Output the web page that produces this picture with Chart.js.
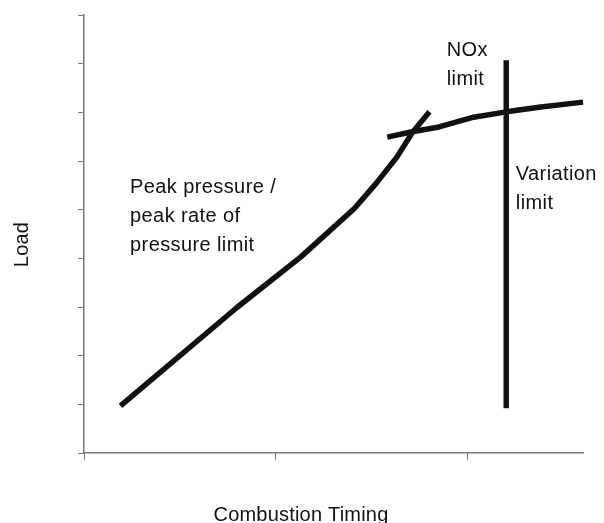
<!DOCTYPE html>
<html>
<head>
<meta charset="utf-8">
<script src="https://cdn.jsdelivr.net/npm/chart.js@4/dist/chart.umd.min.js"></script>
<style>
html,body{margin:0;padding:0;background:#fff;}
#wrap{width:604px;height:523px;position:relative;}
</style>
</head>
<body>
<div id="wrap"><canvas id="c" width="604" height="523"></canvas></div>
<script>
// Data (x: combustion timing, y: load)
const peakX = [0.19, 0.80, 1.13, 1.41, 1.52, 1.63, 1.71, 1.80];
const peakY = [0.97, 3.00, 4.03, 5.03, 5.53, 6.08, 6.58, 7.01];
const noxX = [1.58, 1.71, 1.85, 2.03, 2.20, 2.38, 2.60];
const noxY = [6.49, 6.60, 6.70, 6.90, 7.01, 7.11, 7.21];
const varX = [2.20, 2.20];
const varY = [0.92, 8.07];
const xTitle = 'Combustion Timing';
const yTitle = 'Load';
// text annotations, anchored in data units (left edge, first baseline)
const labels = [
  {lines: ['Peak pressure /', 'peak rate of', 'pressure limit'], x: 0.24, y: 5.34},
  {lines: ['NOx', 'limit'], x: 1.89, y: 8.16},
  {lines: ['Variation', 'limit'], x: 2.25, y: 5.61}
];

const pts = (xs, ys) => xs.map((x, i) => ({x: x, y: ys[i]}));
const FONT = "'Liberation Sans', Arial, sans-serif";
const lineStyle = {borderColor: '#111', borderWidth: 5.5, pointRadius: 0, showLine: true,
  fill: false, tension: 0, borderCapStyle: 'butt', borderJoinStyle: 'round', clip: false};

const textPlugin = {
  id: 'textLabels',
  afterDatasetsDraw(chart) {
    const ctx = chart.ctx, xs = chart.scales.x, ys = chart.scales.y;
    ctx.save();
    ctx.font = '20px ' + FONT;
    ctx.fillStyle = '#111';
    ctx.textAlign = 'left';
    ctx.textBaseline = 'alphabetic';
    ctx.letterSpacing = '0.4px';
    labels.forEach(l => {
      const px = xs.getPixelForValue(l.x);
      const py = ys.getPixelForValue(l.y);
      l.lines.forEach((t, i) => ctx.fillText(t, px, py + i * 29));
    });
    ctx.letterSpacing = '0.2px';
    // axis titles
    ctx.textAlign = 'center';
    ctx.fillText(xTitle, 301, 521);
    ctx.translate(28, 244.5);
    ctx.rotate(-Math.PI / 2);
    ctx.fillText(yTitle, 0, 0);
    ctx.restore();
  }
};

new Chart(document.getElementById('c'), {
  type: 'scatter',
  data: {
    datasets: [
      Object.assign({label: 'Peak pressure', data: pts(peakX, peakY)}, lineStyle),
      Object.assign({label: 'NOx', data: pts(noxX, noxY)}, lineStyle),
      Object.assign({label: 'Variation', data: pts(varX, varY)}, lineStyle)
    ]
  },
  options: {
    responsive: false,
    animation: false,
    layout: {padding: {top: 15, right: 21, left: 78, bottom: 63}},
    plugins: {legend: {display: false}, tooltip: {enabled: false}},
    scales: {
      x: {
        type: 'linear', min: 0, max: 2.6,
        ticks: {display: false, stepSize: 1, includeBounds: false},
        grid: {drawOnChartArea: false, drawTicks: true, tickLength: 7, color: '#777', lineWidth: 1},
        border: {display: true, color: '#777', width: 1.5}
      },
      y: {
        type: 'linear', min: 0, max: 9,
        ticks: {display: false, stepSize: 1},
        grid: {drawOnChartArea: false, drawTicks: true, tickLength: 6, color: '#777', lineWidth: 1},
        border: {display: true, color: '#777', width: 1.5}
      }
    }
  },
  plugins: [textPlugin]
});
</script>
</body>
</html>
